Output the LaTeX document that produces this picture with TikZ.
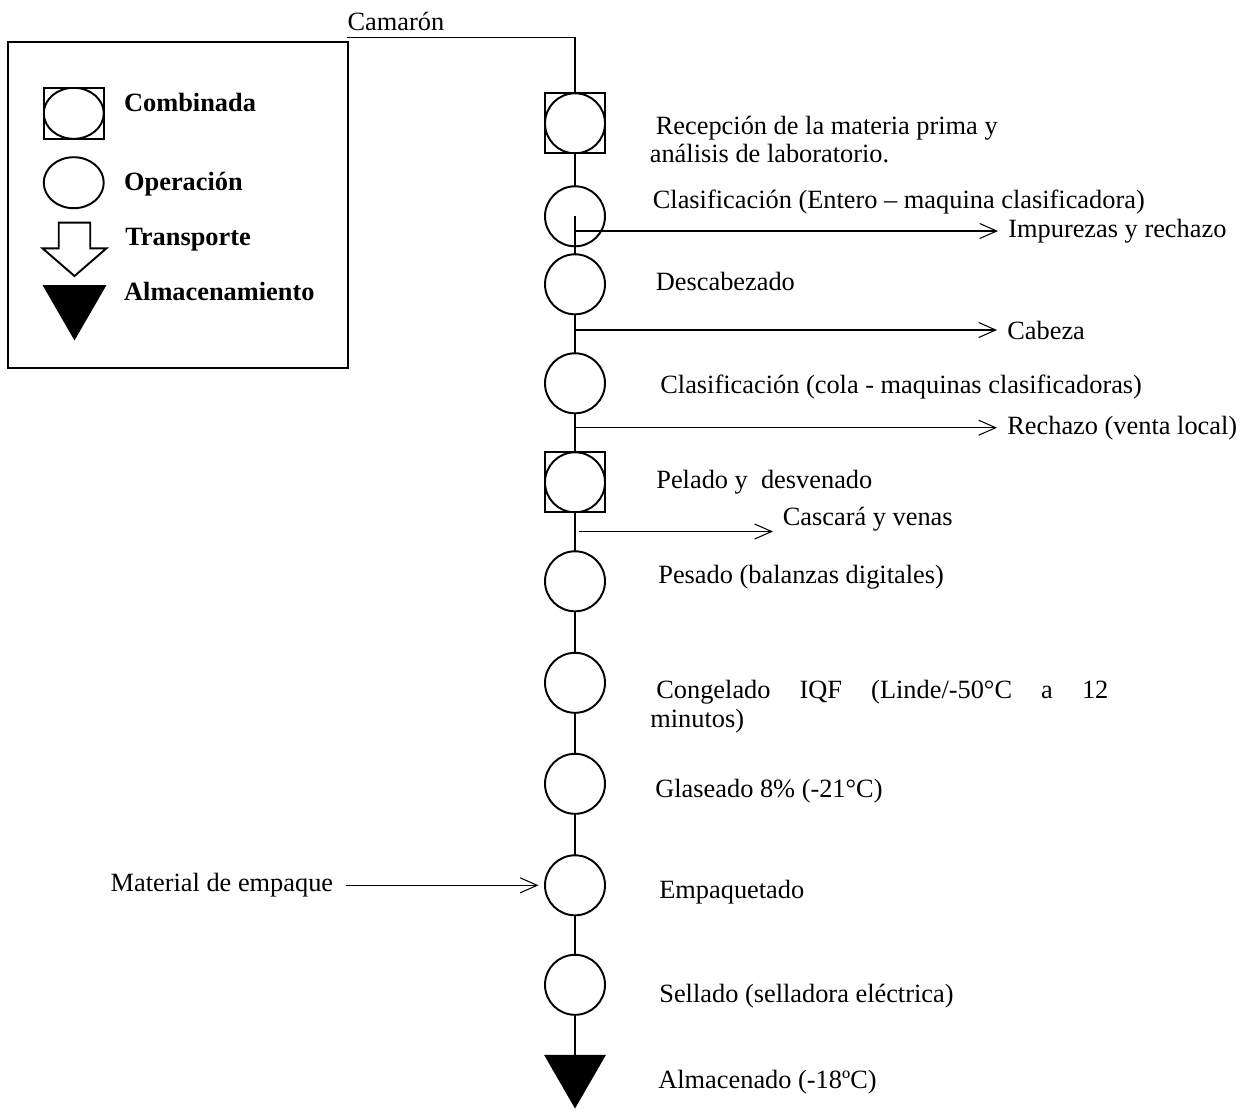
\documentclass[tikz,border=0pt]{standalone}
\usepackage{fontspec}
\setmainfont{Liberation Serif}
\usetikzlibrary{shapes.geometric, arrows.meta, positioning}

\begin{document}
\begin{tikzpicture}[
            opcircle/.style={draw, circle, line width=1.1pt, minimum size=1.2cm, inner sep=0pt, outer sep=0pt},
            combobox/.style 2 args={draw, rectangle, line width=1.1pt, minimum width=#1, minimum height=#2, inner sep=0pt, outer sep=0pt,
                path picture={\draw[line width=1.1pt] (path picture bounding box.center) ellipse ({#1/2} and {#2/2});}},
            storetri/.style={fill=black, regular polygon, regular polygon sides=3, shape border rotate=180, minimum size=1.432cm, inner sep=0pt, outer sep=0pt},
            steptext/.style={anchor=base west, inner sep=0pt, font=\fontsize{15}{15.4}\selectfont},
            outtext/.style={anchor=west, inner xsep=0.2cm, inner ysep=0pt, font=\fontsize{15}{18}\selectfont},
            keytext/.style={anchor=base west, inner sep=0pt, font=\fontsize{15}{18}\selectfont\bfseries},
            flow/.style={line width=0.6pt},
            arrow/.style={-{Straight Barb[length=0.34cm, width=0.3cm]}, line width=0.6pt}
        ]
            \useasboundingbox (0,0) rectangle (25.14,-22.24);

            % legend
            \node[draw, line width=1.1pt, minimum width=6.8cm, minimum height=6.514cm, inner sep=0pt] (key) at (3.56,-4.103) {};
            \node[combobox={1.2cm}{1.02cm}] (keycombo) at (1.475,-2.266) {};
            \node[keytext] (keycombotext) at (2.476,-2.234) {Combinada};
            \node[draw, ellipse, line width=1.1pt, minimum width=1.2cm, minimum height=1.02cm, inner sep=0pt] (keyop) at (1.475,-3.654) {};
            \node[keytext] (keyoptext) at (2.476,-3.8) {Operación};
            \coordinate (keytrans) at (1.49,-4.454);
            \draw[line width=1.1pt] (keytrans) ++(-0.315,0) -- ++(0.63,0) -- ++(0,-0.512) -- ++(0.325,0) -- ++(-0.64,-0.554) -- ++(-0.64,0.554) -- ++(0.325,0) -- cycle;
            \node[keytext] (keytranstext) at (2.5,-4.9) {Transporte};
            \node[storetri, minimum size=1.478cm] (keystore) at (1.49,-6.07) {};
            \node[keytext] (keystoretext) at (2.476,-6.0) {Almacenamiento};

            % process chain
            \node[anchor=base west, inner xsep=0pt, inner ysep=0.134cm, font=\fontsize{15}{18}\selectfont] (camaron) at (6.944,-0.6) {Camarón};
            \node[combobox={1.2cm}{1.2cm}] (recep) at (11.5,-2.466) {};
            \node[opcircle, below=0.66cm of recep] (clasent) {};
            \node[opcircle, below=0.16cm of clasent] (descab) {};
            \node[opcircle, below=0.78cm of descab] (clascola) {};
            \node[combobox={1.2cm}{1.2cm}, below=0.78cm of clascola] (pelado) {};
            \node[opcircle, below=0.78cm of pelado] (pesado) {};
            \node[opcircle, below=0.83cm of pesado] (congel) {};
            \node[opcircle, below=0.82cm of congel] (glaseado) {};
            \node[opcircle, below=0.83cm of glaseado] (empaq) {};
            \node[opcircle, below=0.79cm of empaq] (sellado) {};
            \node[storetri, below=0.8cm of sellado] (almacen) {};

            \node[steptext, align=left] (trecep) at (12.99,-3.24) {\hspace*{0.12cm}Recepción de la materia prima y\\análisis de laboratorio.};
            \node[steptext] (tclasent) at (13.05,-4.16) {Clasificación (Entero – maquina clasificadora)};
            \node[steptext] (tdescab) at (13.11,-5.8) {Descabezado};
            \node[steptext] (tclascola) at (13.2,-7.86) {Clasificación (cola - maquinas clasificadoras)};
            \node[steptext] (tpelado) at (13.12,-9.76) {Pelado y\ \ desvenado};
            \node[steptext] (tpesado) at (13.16,-11.67) {Pesado (balanzas digitales)};
            \node[steptext, text width=9.16cm, align=justify, font=\fontsize{15}{17}\selectfont] (tcongel) at (13.0,-13.96) {\hspace*{0.12cm}Congelado IQF (Linde/-50°C a 12\linebreak minutos)};
            \node[steptext] (tglaseado) at (13.1,-15.94) {Glaseado 8\% (-21°C)};
            \node[steptext] (tempaq) at (13.18,-17.96) {Empaquetado};
            \node[steptext] (tsellado) at (13.18,-20.04) {Sellado (selladora eléctrica)};
            \node[steptext] (talmacen) at (13.16,-21.76) {Almacenado (-18ºC)};

            % outputs and inputs
            \node[outtext] (impurezas) at (19.96,-4.62) {Impurezas y rechazo};
            \node[outtext] (cabeza) at (19.94,-6.6) {Cabeza};
            \node[outtext] (rechazo) at (19.94,-8.554) {Rechazo (venta local)};
            \node[anchor=south west, inner xsep=0.19cm, inner ysep=0pt, font=\fontsize{15}{18}\selectfont] (cascara) at (15.46,-10.63) {Cascará y venas};
            \node[anchor=east, inner xsep=0.24cm, inner ysep=0pt, font=\fontsize{15}{18}\selectfont, left=3.99cm of empaq] (material) {Material de empaque};

            \draw[flow] (camaron.south west) -| (recep.north);
            \draw[flow] (recep) -- (clasent);
            \draw[flow] (clasent.center) -- (descab);
            \foreach \a/\b in {descab/clascola, clascola/pelado, pelado/pesado, pesado/congel, congel/glaseado, glaseado/empaq, empaq/sellado, sellado/almacen}
                \draw[flow] (\a) -- (\b);

            \draw[arrow] (clasent.center |- impurezas.west) -- (impurezas.west);
            \draw[arrow] (descab |- cabeza.west) -- (cabeza.west);
            \draw[arrow] (clascola |- rechazo.west) -- (rechazo.west);
            \draw[arrow] ([xshift=0.08cm]pelado.center |- cascara.south west) -- (cascara.south west);
            \draw[arrow, shorten >=0.13cm] (material) -- (empaq);
        \end{tikzpicture}
\end{document}
